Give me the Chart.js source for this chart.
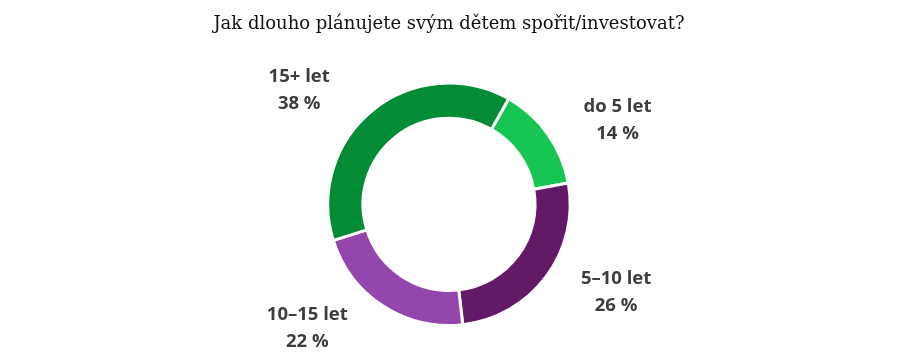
<!DOCTYPE html>
<html>
<head>
<meta charset="utf-8">
<script src="https://cdn.jsdelivr.net/npm/chart.js@4"></script>
<style>
    html, body { margin: 0; padding: 0; background: #fff; }
    #wrap { width: 898px; height: 364px; }
</style>
</head>
<body>
<div id="wrap"><canvas id="sporeniChart"></canvas></div>
<script>
const chartTitle = 'Jak dlouho plánujete svým dětem spořit/investovat?';
const categories = ['do 5 let', '5–10 let', '10–15 let', '15+ let'];
const shares     = [14, 26, 22, 38];
const colors     = ['#17c553', '#621a67', '#9347ac', '#038b35'];

// popisky mimo prstenec: kategorie + procenta
const outerLabels = {
    id: 'outerLabels',
    afterDatasetsDraw(chart) {
        const ctx = chart.ctx;
        const meta = chart.getDatasetMeta(0);
        ctx.save();
        ctx.font = 'bold 18.5px "Open Sans"';
        ctx.fillStyle = '#3d3d3d';
        ctx.textAlign = 'center';
        ctx.textBaseline = 'middle';
        meta.data.forEach((arc, i) => {
            const mid = (arc.startAngle + arc.endAngle) / 2;
            const k = arc.outerRadius / 122;
            let x = arc.x + Math.cos(mid) * 100 * k;
            const y = arc.y + Math.sin(mid) * 148 * k;
            x += (Math.cos(mid) >= 0 ? 88 : -88) * k;
            ctx.fillText(categories[i], x, y - 13);
            ctx.fillText(shares[i] + ' %', x, y + 14);
        });
        ctx.restore();
    }
};

new Chart(document.getElementById('sporeniChart'), {
    type: 'doughnut',
    data: {
        labels: categories,
        datasets: [{
            data: shares,
            backgroundColor: colors,
            borderColor: '#ffffff',
            borderWidth: 3,
            hoverOffset: 0
        }]
    },
    options: {
        responsive: true,
        maintainAspectRatio: false,
        animation: false,
        rotation: 29.5,
        cutout: '71%',
        layout: { padding: { top: 0, bottom: 37 } },
        plugins: {
            legend: { display: false },
            tooltip: { enabled: false },
            title: {
                display: true,
                text: chartTitle,
                color: '#111111',
                font: { family: '"DejaVu Serif"', size: 18, weight: 'normal' },
                padding: { top: 14, bottom: 46 }
            }
        }
    },
    plugins: [outerLabels]
});
</script>
</body>
</html>
